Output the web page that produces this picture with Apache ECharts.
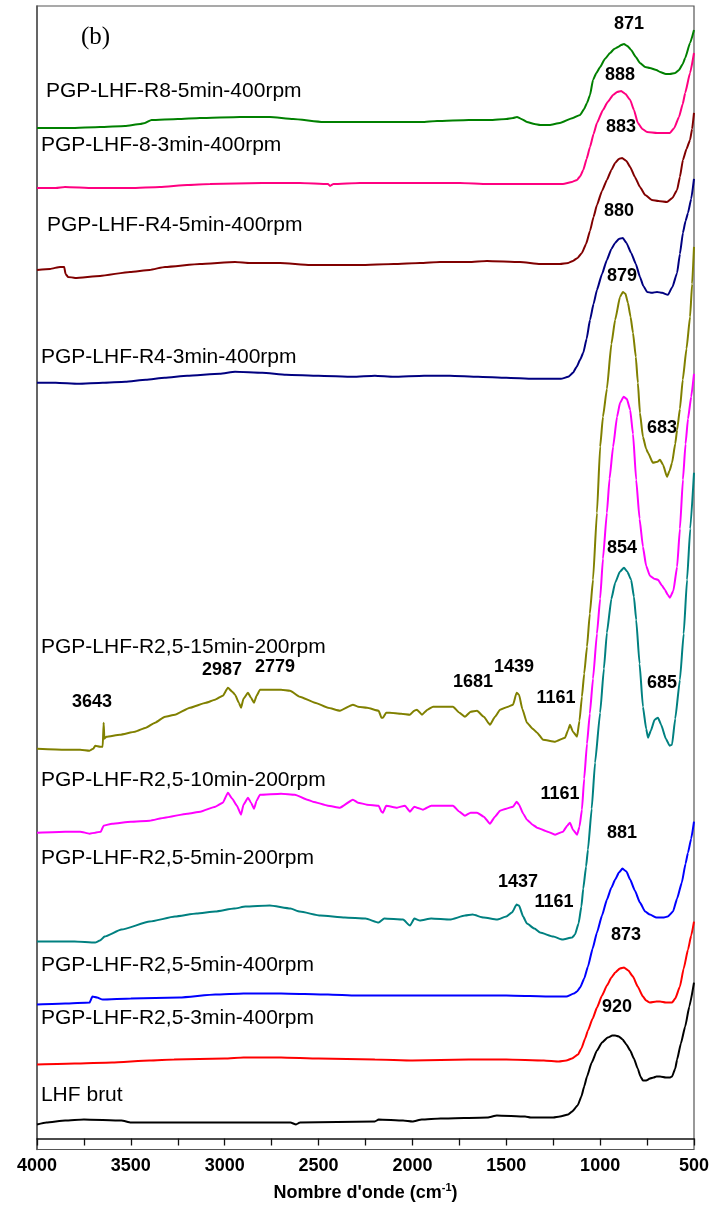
<!DOCTYPE html>
<html>
<head>
<meta charset="utf-8">
<script src="https://cdn.jsdelivr.net/npm/echarts@6/dist/echarts.min.js"></script>
<style>
html,body{margin:0;padding:0;background:#fff;}
#chart{width:727px;height:1207px;}
</style>
</head>
<body>
<div id="chart"></div>
<script>
// ---- Data: [wavenumber (cm-1), stacked intensity (a.u.)] ----
const lhfBrut = [[4000,14],[3950,16],[3850,18],[3750,19],[3550,18],[3500,16],[3000,16],[2650,16],[2620,14],[2600,16],[2200,17],[2180,19],[2050,18],[2000,17],[1950,19],[1850,20],[1600,21],[1550,23],[1400,22],[1370,21],[1250,21],[1214,22],[1170,24],[1150,27],[1120,33],[1100,42],[1085,52],[1070,62],[1045,76],[1017,88],[990,96],[960,101],[935,103],[920,103],[900,102],[880,99],[860,94],[840,88],[820,80],[800,70],[785,62],[772,58],[755,58],[735,60],[715,61],[700,62],[681,62],[650,61],[630,61],[617,62],[600,70],[590,79],[570,95],[547,112],[525,132],[500,156]];
const r25_3min_400 = [[4000,74],[3800,75],[3600,76],[3400,78],[3270,79],[3000,80],[2900,81],[2700,81],[2500,80],[2200,79],[2000,78],[1700,79],[1500,79],[1300,78],[1220,77],[1180,78],[1150,80],[1118,84],[1100,90],[1080,100],[1065,108],[1040,120],[1017,131],[990,143],[964,153],[940,161],[920,166],[895,170],[873,171],[850,168],[825,162],[800,152],[772,142],[755,138],[735,136],[700,137],[681,137],[650,136],[617,136],[600,140],[575,152],[555,170],[532,189],[515,203],[500,217]];
const r25_5min_400 = [[4000,134],[3850,135],[3720,136],[3705,142],[3680,141],[3650,139],[3500,140],[3240,141],[3050,144],[2900,145],[2700,145],[2450,144],[2300,143],[2000,143],[1700,143],[1500,143],[1250,142],[1180,142],[1140,145],[1123,147],[1107,151],[1085,160],[1065,172],[1040,190],[1017,206],[990,223],[964,239],[940,251],[920,259],[900,266],[881,270],[860,267],[840,259],[815,248],[788,236],[760,227],[735,224],[700,221],[665,221],[640,222],[612,227],[590,240],[565,256],[545,275],[532,286],[515,300],[500,317]];
const r25_5min_200 = [[4000,197],[3800,197],[3690,196],[3665,198],[3640,202],[3550,209],[3400,217],[3265,222],[3150,225],[3050,227],[2950,230],[2890,232],[2760,233],[2650,230],[2600,227],[2490,223],[2360,221],[2250,220],[2180,216],[2150,220],[2050,219],[2013,213],[1990,220],[1960,218],[1900,220],[1800,219],[1720,223],[1680,224],[1620,221],[1550,219],[1500,222],[1470,226],[1445,234],[1432,233],[1410,222],[1390,215],[1350,210],[1320,206],[1250,202],[1200,199],[1150,201],[1134,204],[1115,215],[1100,232],[1090,250],[1075,272],[1065,289],[1045,330],[1027,376],[1000,426],[980,470],[964,506],[940,540],[920,556],[895,567],[873,571],[855,567],[835,559],[820,542],[808,519],[790,475],[772,432],[755,410],[745,401],[730,408],[710,419],[692,421],[675,414],[650,400],[630,393],[617,394],[600,420],[575,459],[555,505],[537,559],[520,610],[500,666]];
const r25_10min_200 = [[4000,306],[3850,307],[3770,307],[3720,305],[3690,306],[3660,307],[3645,313],[3600,315],[3500,317],[3400,318],[3320,321],[3200,325],[3130,327],[3050,332],[3010,336],[2983,346],[2960,340],[2935,333],[2913,324],[2900,334],[2876,341],[2860,336],[2844,330],[2830,338],[2812,344],[2700,345],[2626,344],[2560,339],[2530,337],[2450,333],[2386,331],[2317,339],[2290,336],[2242,334],[2180,333],[2165,327],[2157,326],[2140,333],[2082,331],[2040,333],[2013,327],[1990,332],[1976,331],[1944,329],[1900,333],[1853,333],[1784,333],[1750,327],[1720,323],[1690,326],[1656,326],[1620,322],[1587,315],[1560,322],[1533,328],[1500,330],[1464,332],[1445,337],[1432,334],[1410,325],[1390,319],[1360,314],[1336,311],[1280,307],[1240,304],[1198,307],[1175,313],[1161,316],[1145,309],[1123,304],[1110,312],[1097,329],[1085,360],[1070,395],[1055,425],[1038,460],[1017,505],[1000,540],[985,580],[964,626],[950,660],[931,692],[910,722],[894,736],[875,742],[858,740],[840,729],[825,705],[808,659],[790,620],[772,592],[755,573],[735,563],[712,560],[692,559],[670,553],[655,549],[640,544],[628,541],[610,548],[590,572],[575,610],[559,659],[545,695],[532,720],[515,742],[500,765]];
const r25_15min_200 = [[4000,390],[3850,389],[3770,389],[3720,388],[3700,390],[3690,393],[3664,392],[3650,392],[3645,416],[3641,400],[3630,402],[3558,404],[3478,407],[3420,411],[3371,416],[3318,422],[3265,424],[3185,431],[3100,436],[3052,439],[3010,443],[2983,451],[2960,447],[2945,444],[2925,436],[2913,431],[2900,440],[2876,446],[2860,441],[2844,436],[2830,443],[2812,449],[2700,449],[2652,448],[2600,442],[2519,436],[2450,431],[2386,428],[2317,434],[2290,432],[2242,431],[2180,428],[2165,421],[2157,421],[2140,426],[2120,426],[2060,425],[2013,424],[1990,428],[1976,429],[1949,424],[1920,429],[1890,432],[1784,432],[1750,426],[1720,422],[1690,427],[1656,428],[1620,422],[1587,414],[1560,422],[1533,429],[1490,432],[1464,434],[1445,446],[1432,444],[1415,430],[1390,416],[1360,410],[1336,406],[1304,399],[1240,397],[1187,401],[1170,409],[1161,414],[1145,407],[1123,402],[1110,418],[1097,442],[1085,465],[1070,492],[1055,525],[1038,559],[1017,626],[1000,692],[985,722],[964,750],[940,795],[920,819],[894,842],[879,847],[865,845],[852,836],[838,822],[825,806],[810,782],[799,756],[788,726],[772,702],[755,690],[745,686],[719,676],[695,677],[681,679],[665,674],[644,662],[630,668],[617,676],[600,695],[590,709],[575,730],[560,759],[540,790],[521,822],[510,855],[500,892]];
const r4_3min_400 = [[4000,756],[3900,756],[3780,755],[3650,756],[3530,757],[3420,759],[3320,761],[3200,763],[3026,765],[2945,767],[2800,766],[2673,764],[2500,763],[2317,762],[2200,763],[2100,762],[1938,763],[1800,763],[1650,762],[1500,761],[1357,760],[1209,760],[1170,762],[1145,766],[1125,772],[1107,779],[1090,786],[1072,800],[1054,819],[1035,835],[1017,849],[990,865],[964,879],[940,890],[920,896],[900,900],[879,901],[860,896],[835,886],[810,875],[788,862],[770,853],[750,847],[725,846],[697,847],[670,846],[639,844],[615,852],[590,866],[575,885],[559,906],[545,918],[532,926],[515,940],[500,960]];
const r4_5min_400 = [[4000,869],[3930,870],[3877,872],[3855,872],[3848,865],[3835,862],[3797,861],[3664,863],[3505,867],[3400,869],[3318,872],[3132,875],[2945,877],[2865,876],[2705,876],[2545,874],[2280,874],[2100,875],[1960,876],[1853,877],[1700,877],[1603,878],[1427,877],[1320,875],[1214,875],[1170,876],[1145,878],[1120,881],[1097,886],[1075,895],[1054,908],[1035,922],[1017,934],[990,948],[964,959],[940,969],[920,976],[900,980],[883,981],[860,978],[840,972],[815,962],[788,952],[760,944],[724,939],[690,938],[644,937],[615,941],[590,949],[575,962],[559,979],[540,990],[521,999],[510,1010],[500,1026]];
const r8_3min_400 = [[4000,951],[3900,951],[3851,952],[3700,951],[3664,951],[3500,951],[3345,952],[3200,954],[3078,955],[2800,956],[2600,956],[2450,955],[2439,953],[2420,955],[2280,956],[2000,956],[1746,956],[1600,955],[1390,955],[1198,955],[1150,957],[1123,959],[1105,963],[1090,969],[1072,980],[1054,992],[1035,1005],[1017,1016],[985,1029],[960,1037],[931,1044],[910,1047],[888,1048],[865,1045],[840,1039],[820,1029],[799,1016],[775,1010],[750,1007],[697,1006],[628,1006],[605,1011],[580,1022],[560,1035],[547,1046],[521,1066],[500,1086]];
const r8_5min_400 = [[4000,1011],[3824,1011],[3664,1012],[3531,1013],[3450,1015],[3425,1016],[3390,1019],[3250,1020],[3132,1021],[2919,1022],[2759,1022],[2636,1020],[2476,1017],[2300,1017],[2029,1017],[1950,1017],[1869,1018],[1700,1019],[1587,1019],[1500,1020],[1464,1021],[1443,1022],[1420,1020],[1390,1017],[1350,1015],[1320,1014],[1270,1014],[1214,1016],[1145,1021],[1107,1024],[1085,1030],[1070,1036],[1054,1044],[1038,1059],[1020,1066],[1000,1072],[975,1080],[947,1086],[925,1090],[905,1092],[888,1094],[873,1095],[855,1093],[835,1089],[810,1082],[788,1076],[760,1072],[735,1071],[700,1069],[681,1067],[650,1065],[628,1065],[600,1066],[580,1069],[560,1075],[547,1081],[521,1096],[500,1109]];

// Sample names (bottom to top) and peak annotations
const sampleNames = ['LHF brut','PGP-LHF-R2,5-3min-400rpm','PGP-LHF-R2,5-5min-400rpm','PGP-LHF-R2,5-5min-200rpm','PGP-LHF-R2,5-10min-200rpm','PGP-LHF-R2,5-15min-200rpm','PGP-LHF-R4-3min-400rpm','PGP-LHF-R4-5min-400rpm','PGP-LHF-8-3min-400rpm','PGP-LHF-R8-5min-400rpm'];
const peakTexts = ['920','873','881','1437','1161','1161','685','854','1161','1439','1681','2987','2779','3643','683','879','880','883','888','871'];
// tick labels of x axis
const xTicks = [4000,3500,3000,2500,2000,1500,1000,500];

// ---- layout (kept apart from the data) ----
const seriesData = [lhfBrut,r25_3min_400,r25_5min_400,r25_5min_200,r25_10min_200,r25_15min_200,r4_3min_400,r4_5min_400,r8_3min_400,r8_5min_400];
const seriesColors = ['#000000','#ff0000','#0000ff','#008080','#ff00ff','#808000','#000080','#800000','#ff0080','#008000'];
const nameAnchors = [[3979,43],[3979,120],[3979,173],[3979,280],[3979,358],[3979,492],[3979,782],[3947,914],[3979,994],[3952,1048]];
const peakAnchors = [[910,132],[862,204],[884,306],[1438,257],[1246,237],[1214,345],[670,456],[884,591],[1235,441],[1459,472],[1677,457],[3014,469],[2732,472],[3707,437],[670,711],[884,863],[900,928],[889,1012],[894,1064],[846,1115]];

const chart = echarts.init(document.getElementById('chart'), null, {renderer:'canvas'});
const series = seriesData.map((d,i)=>({
  type:'line', name: sampleNames[i], data:d, showSymbol:false, symbol:'none',
  smooth:0.15, smoothMonotone:'x', clip:false, silent:true,
  lineStyle:{color:seriesColors[i], width:2}, z:3
}));
series.push({
  type:'scatter', silent:true, clip:false, symbolSize:0, z:5,
  itemStyle:{opacity:1},
  data: sampleNames.map((n,i)=>({name:n, value:nameAnchors[i]})),
  label:{show:true, position:'right', distance:0, formatter:'{b}', color:'#000', opacity:1,
         fontFamily:'Liberation Sans, Arial, sans-serif', fontSize:21}
});
series.push({
  type:'scatter', silent:true, clip:false, symbolSize:0, z:5,
  itemStyle:{opacity:1},
  data: peakTexts.map((t,i)=>({name:t, value:peakAnchors[i]})),
  label:{show:true, position:'inside', formatter:'{b}', color:'#000', opacity:1,
         fontFamily:'Liberation Sans, Arial, sans-serif', fontSize:18, fontWeight:'bold'}
});

chart.setOption({
  animation:false,
  backgroundColor:'#fff',
  title:{text:'(b)', left:76, top:20, textStyle:{fontFamily:'Liberation Serif, Times New Roman, serif', fontSize:25, fontWeight:'normal', color:'#000'}},
  grid:{left:37, right:33, top:6, bottom:57, show:true, borderColor:'#555', borderWidth:1.2, containLabel:false},
  xAxis:{type:'value', min:500, max:4000, interval:250, inverse:true,
    name:'Nombre d\'onde (cm{sup|-1})', nameLocation:'middle', nameGap:33,
    nameTextStyle:{fontFamily:'Liberation Sans, Arial, sans-serif', fontSize:18, fontWeight:'bold', color:'#000',
      rich:{sup:{fontSize:11, fontWeight:'bold', verticalAlign:'top', padding:[0,0,10,0], color:'#000', fontFamily:'Liberation Sans, Arial, sans-serif'}}},
    axisLine:{show:true, lineStyle:{color:'#111', width:1.5}},
    axisTick:{show:true, inside:false, length:7, lineStyle:{color:'#111', width:1.3}},
    axisLabel:{show:true, margin:8, fontFamily:'Liberation Sans, Arial, sans-serif', fontSize:18, fontWeight:'bold', color:'#000',
      formatter:v=> xTicks.indexOf(v)>=0 ? String(v) : ''},
    splitLine:{show:false}},
  yAxis:{type:'value', min:-11, max:1133, show:true,
    axisLine:{show:true, lineStyle:{color:'#555', width:1.5}}, axisTick:{show:false}, axisLabel:{show:false}, splitLine:{show:false}},
  series
});
</script>
</body>
</html>
